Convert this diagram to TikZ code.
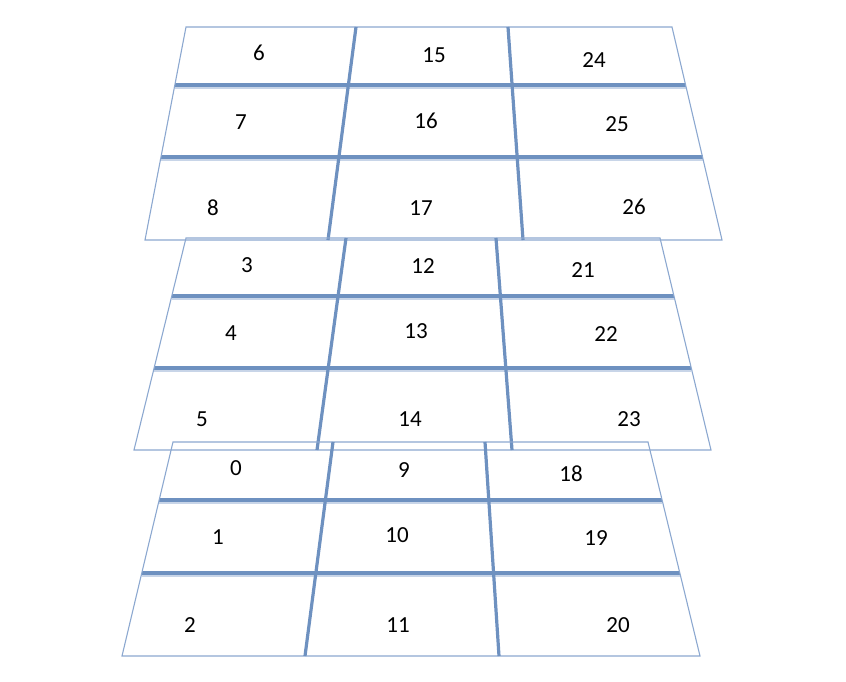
\documentclass[tikz,border=0pt]{standalone}
\usepackage{fontspec}
\setmainfont{Carlito}
\definecolor{frame}{HTML}{8CA8D0}
\definecolor{grid}{HTML}{6E91C0}
\definecolor{gshadow}{HTML}{C8D5E8}
\tikzset{
  frameline/.style={draw=frame, line width=1.1pt},
  gridline/.style={draw=grid, line width=3.2pt},
  shadowline/.style={draw=gshadow, line width=2.4pt},
  cell/.style={font=\fontsize{23}{25}\selectfont, text=black, inner sep=0pt}
}
\newcommand{\layerdraw}[8]{%
  % #1 ty, #2 tlx, #3 trx, #4 by, #5 blx, #6 brx, #7 h1, #8 h2
  \coordinate (TL) at (#2,#1);
  \coordinate (TR) at (#3,#1);
  \coordinate (BL) at (#5,#4);
  \coordinate (BR) at (#6,#4);
  \path (TL) -- (BL) coordinate[pos={(#7-#1)/(#4-#1)}] (L1) coordinate[pos={(#8-#1)/(#4-#1)}] (L2);
  \path (TR) -- (BR) coordinate[pos={(#7-#1)/(#4-#1)}] (R1) coordinate[pos={(#8-#1)/(#4-#1)}] (R2);
  \draw[shadowline] ([yshift=-2.6pt]L1) -- ([yshift=-2.6pt]R1);
  \draw[shadowline] ([yshift=-2.6pt]L2) -- ([yshift=-2.6pt]R2);
  \draw[gridline] (L1) -- (R1);
  \draw[gridline] (L2) -- (R2);
  \draw[frameline] (TL) -- (TR) -- (BR) -- (BL) -- cycle;
}
\begin{document}
\begin{tikzpicture}[x=1pt,y=-1pt]
\useasboundingbox (0,0) rectangle (846,681);
% top layer
\layerdraw{27}{186}{672}{240}{145}{722}{85}{157}
\coordinate (ta1) at (356,27); \coordinate (tb1) at (328,240);
\coordinate (ta2) at (508,27); \coordinate (tb2) at (523,240);
\draw[gridline] (ta1) -- (tb1);
\draw[gridline] (ta2) -- (tb2);
% middle layer
\layerdraw{238}{186}{660}{450}{134}{711}{296}{368}
\coordinate (ma1) at (346,238); \coordinate (mb1) at (317,450);
\coordinate (ma2) at (496,238); \coordinate (mb2) at (512,450);
\draw[gridline] (ma1) -- (mb1);
\draw[gridline] (ma2) -- (mb2);
% bottom layer
\layerdraw{442}{173}{648}{656}{122}{700}{500}{573}
\coordinate (ba1) at (333,442); \coordinate (bb1) at (305,656);
\coordinate (ba2) at (485,442); \coordinate (bb2) at (499,656);
\draw[gridline] (ba1) -- (bb1);
\draw[gridline] (ba2) -- (bb2);
% labels
\node[cell] (n6) at (259,53) {6};
\node[cell] (n15) at (434,55) {15};
\node[cell] (n24) at (594,60) {24};
\node[cell] (n7) at (241,122) {7};
\node[cell] (n16) at (426,121) {16};
\node[cell] (n25) at (617,124) {25};
\node[cell] (n8) at (213,208) {8};
\node[cell] (n17) at (421,208) {17};
\node[cell] (n26) at (634,207) {26};
\node[cell] (n3) at (247,265) {3};
\node[cell] (n12) at (423,266) {12};
\node[cell] (n21) at (583,270) {21};
\node[cell] (n4) at (231,333) {4};
\node[cell] (n13) at (416,331) {13};
\node[cell] (n22) at (606,334) {22};
\node[cell] (n5) at (202,419) {5};
\node[cell] (n14) at (410,419) {14};
\node[cell] (n23) at (629,419) {23};
\node[cell] (n0) at (236,468) {0};
\node[cell] (n9) at (404,470) {9};
\node[cell] (n18) at (571,474) {18};
\node[cell] (n1) at (218,537) {1};
\node[cell] (n10) at (397,535) {10};
\node[cell] (n19) at (596,538) {19};
\node[cell] (n2) at (190,625) {2};
\node[cell] (n11) at (398,625) {11};
\node[cell] (n20) at (618,625) {20};
\end{tikzpicture}
\end{document}
